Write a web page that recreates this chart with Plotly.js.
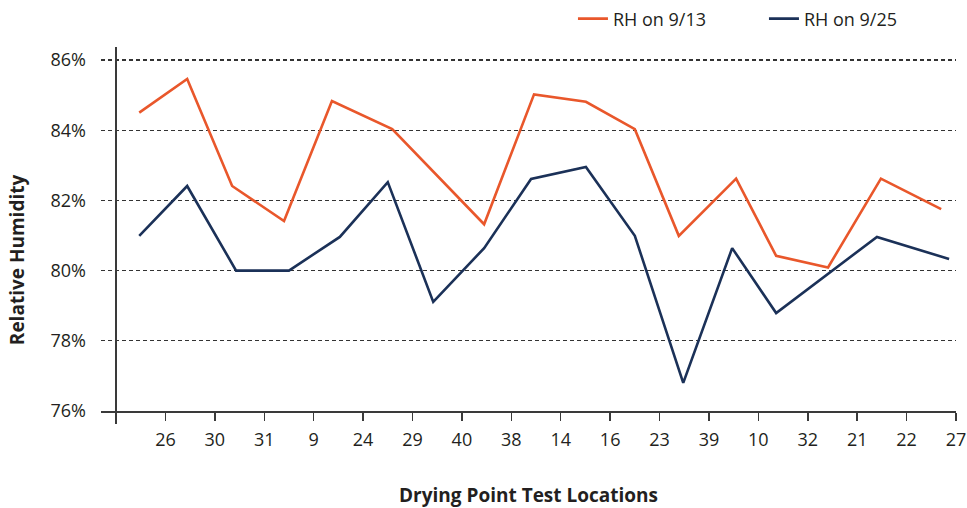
<!DOCTYPE html>
<html>
<head>
<meta charset="utf-8">
<script src="https://cdn.plot.ly/plotly-3.0.1.min.js"></script>
<style>html,body{margin:0;padding:0;background:#fff;}#chart{width:967px;height:508px;}</style>
</head>
<body>
<div id="chart"></div>
<script>
// Test location labels along the x axis
const tickLabels = ['26','30','31','9','24','29','40','38','14','16','23','39','10','32','21','22','27'];
// RH on 9/13 (positions along axis, values in %)
const rh913X = [0.47,1.44,2.35,3.40,4.37,5.59,7.45,8.46,9.51,10.50,11.39,12.55,13.36,14.41,15.48,16.70];
const rh913 = [84.50,85.46,82.41,81.41,84.83,84.03,81.32,85.02,84.81,84.03,80.99,82.62,80.42,80.09,82.62,81.75];
// RH on 9/25
const rh925X = [0.47,1.44,2.43,3.50,4.53,5.50,6.42,7.45,8.40,9.51,10.50,11.48,12.47,13.36,15.40,16.86];
const rh925 = [80.99,82.41,80.00,80.00,80.96,82.52,79.11,80.64,82.61,82.95,80.99,76.80,80.64,78.79,80.96,80.33];
const yTicks = [76,78,80,82,84,86];

const tickVals = tickLabels.map((_, i) => i + 1);
const txt = '#231F20';
const fnt = 'Open Sans, Noto Sans, sans-serif';

const traces = [
  {x: rh913X, y: rh913, name: 'RH on 9/13', mode: 'lines', type: 'scatter',
   line: {color: '#E9572B', width: 2.6}},
  {x: rh925X, y: rh925, name: 'RH on 9/25', mode: 'lines', type: 'scatter',
   line: {color: '#1B3158', width: 2.6}}
];

const layout = {
  width: 967, height: 508,
  margin: {l: 101, r: 11, t: 47, b: 97, autoexpand: false},
  paper_bgcolor: '#fff', plot_bgcolor: '#fff',
  font: {family: fnt, size: 18, color: txt},
  showlegend: true,
  legend: {orientation: 'h', x: 0.552, xanchor: 'left', y: 1.077, yanchor: 'middle',
           font: {family: fnt, size: 18, color: txt}, entrywidth: 146, entrywidthmode: 'pixels',
           bgcolor: 'rgba(0,0,0,0)'},
  xaxis: {
    range: [-0.304, 17], tickmode: 'array', tickvals: tickVals, ticktext: tickLabels,
    showgrid: false, zeroline: true, zerolinecolor: '#3a3a3a', zerolinewidth: 1.5,
    showline: true, linecolor: '#3a3a3a', linewidth: 1.5,
    ticks: 'outside', ticklen: 8, tickwidth: 1.5, tickcolor: '#3a3a3a',
    minor: {tickmode: 'array', tickvals: [0], ticks: 'outside', ticklen: 11, tickwidth: 1.5, tickcolor: '#3a3a3a'},
    tickfont: {family: fnt, size: 18, color: txt},
    ticklabelstandoff: 4,
    title: {text: 'Drying Point Test Locations', font: {family: fnt, size: 19, color: txt, weight: 'bold'}, standoff: 38},
    fixedrange: true
  },
  yaxis: {
    range: [76, 86.37], tickmode: 'array', tickvals: yTicks,
    ticktext: yTicks.map(v => v + '%'),
    showgrid: true, gridcolor: '#333333', gridwidth: 1.1, griddash: '4px,3px',
    zeroline: false, showline: false, ticks: '',
    ticklabelstandoff: 14,
    tickfont: {family: fnt, size: 18, color: txt},
    fixedrange: true
  },
  annotations: [{
    text: 'Relative Humidity', textangle: -90, showarrow: false,
    xref: 'paper', yref: 'paper', x: -0.098, y: 0.415, xanchor: 'center', yanchor: 'middle',
    font: {family: fnt, size: 19, color: txt, weight: 'bold'}
  }]
};

Plotly.newPlot('chart', traces, layout, {staticPlot: true, displayModeBar: false});
</script>
</body>
</html>
